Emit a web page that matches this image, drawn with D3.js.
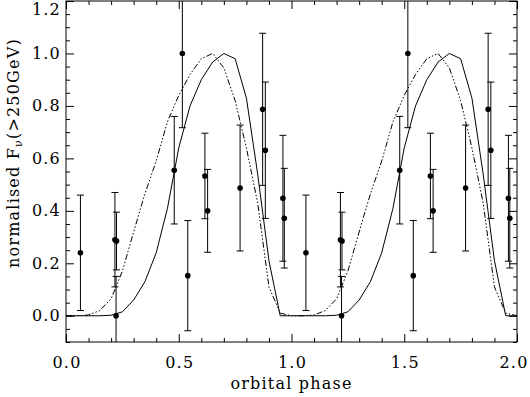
<!DOCTYPE html>
<html>
<head>
<meta charset="utf-8">
<script src="https://cdn.jsdelivr.net/npm/d3@7"></script>
<style>
  body { margin: 0; background: #fff; }
  svg { display: block; }
  text { font-family: "DejaVu Serif", serif; font-size: 16px; fill: #000; letter-spacing: 1.2px; }
</style>
</head>
<body>
<svg id="chart" width="530" height="397"></svg>
<script>
// data: one orbital cycle, drawn twice (phase and phase + 1)
var ptPhase = [0.064, 0.217, 0.224, 0.222, 0.480, 0.516, 0.540, 0.616, 0.628, 0.772, 0.872, 0.884, 0.962, 0.968];
var ptFlux  = [0.240, 0.290, 0.285, 0.000, 0.555, 1.000, 0.153, 0.533, 0.400, 0.487, 0.787, 0.631, 0.448, 0.372];
var ptErr   = [0.220, 0.180, 0.110, 0.150, 0.205, 0.283, 0.210, 0.163, 0.158, 0.240, 0.290, 0.260, 0.240, 0.190];

var modelPhase = [0, 0.05, 0.10, 0.15, 0.20, 0.25, 0.30, 0.35, 0.40, 0.45, 0.50,
                  0.55, 0.60, 0.65, 0.70, 0.75, 0.80, 0.85, 0.90, 0.95, 1.00];
var modelSolid = [0, 0, 0, 0, 0.002, 0.015, 0.06, 0.13, 0.24, 0.41, 0.64,
                  0.80, 0.90, 0.967, 1.0, 0.98, 0.83, 0.54, 0.21, 0.0, 0];
var modelDash  = [0, 0, 0.003, 0.02, 0.065, 0.17, 0.32, 0.465, 0.59, 0.74, 0.84,
                  0.92, 0.98, 1.0, 0.945, 0.82, 0.64, 0.43, 0.11, 0.01, 0];

var xMajor = [0, 0.5, 1.0, 1.5, 2.0];
var yMajor = [0, 0.2, 0.4, 0.6, 0.8, 1.0, 1.2];
var cycles = [0, 1];

(function() {

	var svg = d3.select('#chart');
	var pLeft = 66, pRight = 517, pTop = 1, pBottom = 342;

	var x = d3.scaleLinear().domain([0, 2]).range([pLeft, pRight]);
	var y = d3.scaleLinear().domain([-0.1, 1.2]).range([pBottom, pTop]);

	svg.append('clipPath').attr('id', 'plotclip')
	  .append('rect')
		.attr('x', pLeft).attr('y', pTop)
		.attr('width', pRight - pLeft).attr('height', pBottom - pTop);

	var plot = svg.append('g').attr('clip-path', 'url(#plotclip)');

	// model curves, repeated for each cycle
	function curvePoints(vals) {
		var out = [];
		cycles.forEach(function(c) {
			modelPhase.forEach(function(p, i) {
				if (c > 0 && i == 0) return;
				out.push([p + c, vals[i]]);
			});
		});
		return out;
	}

	var line = d3.line()
		.x(function(d) { return x(d[0]); })
		.y(function(d) { return y(d[1]); });

	plot.append('path')
		.attr('d', line(curvePoints(modelSolid)))
		.attr('fill', 'none').attr('stroke', '#000').attr('stroke-width', 1);

	plot.append('path')
		.attr('d', line(curvePoints(modelDash)))
		.attr('fill', 'none').attr('stroke', '#000').attr('stroke-width', 1)
		.attr('stroke-dasharray', '6,2,1.5,2,1.5,2,1.5,2');

	// data points with error bars
	var pts = [];
	cycles.forEach(function(c) {
		ptPhase.forEach(function(p, i) {
			pts.push({ x: p + c, y: ptFlux[i], e: ptErr[i] });
		});
	});

	var capW = 3.5;
	var g = plot.selectAll('.pt').data(pts).enter().append('g').attr('class', 'pt');
	g.append('line')
		.attr('x1', function(d) { return x(d.x); }).attr('x2', function(d) { return x(d.x); })
		.attr('y1', function(d) { return y(d.y - d.e); }).attr('y2', function(d) { return y(d.y + d.e); })
		.attr('stroke', '#000');
	g.append('line')
		.attr('x1', function(d) { return x(d.x) - capW; }).attr('x2', function(d) { return x(d.x) + capW; })
		.attr('y1', function(d) { return y(d.y - d.e); }).attr('y2', function(d) { return y(d.y - d.e); })
		.attr('stroke', '#000');
	g.append('line')
		.attr('x1', function(d) { return x(d.x) - capW; }).attr('x2', function(d) { return x(d.x) + capW; })
		.attr('y1', function(d) { return y(d.y + d.e); }).attr('y2', function(d) { return y(d.y + d.e); })
		.attr('stroke', '#000');
	g.append('circle')
		.attr('cx', function(d) { return x(d.x); }).attr('cy', function(d) { return y(d.y); })
		.attr('r', 2.8).attr('fill', '#000');

	// ticks on all four sides, pointing inward
	var xMinor = d3.range(0, 2.0001, 0.1).filter(function(v) { return Math.abs(v * 2 - Math.round(v * 2)) > 1e-6; });
	var yMinor = d3.range(-0.1, 1.2001, 0.05).filter(function(v) { return Math.abs(v * 5 - Math.round(v * 5)) > 1e-6; });

	function addAxis(axis, tr) {
		var a = svg.append('g').attr('transform', tr).call(axis);
		a.select('.domain').remove();
		a.selectAll('text').remove();
		a.selectAll('line').attr('stroke', '#000');
	}
	addAxis(d3.axisBottom(x).tickValues(xMajor).tickSize(-8), 'translate(0,' + pBottom + ')');
	addAxis(d3.axisBottom(x).tickValues(xMinor).tickSize(-4), 'translate(0,' + pBottom + ')');
	addAxis(d3.axisTop(x).tickValues(xMajor).tickSize(-8), 'translate(0,' + pTop + ')');
	addAxis(d3.axisTop(x).tickValues(xMinor).tickSize(-4), 'translate(0,' + pTop + ')');
	addAxis(d3.axisLeft(y).tickValues(yMajor).tickSize(-8), 'translate(' + pLeft + ',0)');
	addAxis(d3.axisLeft(y).tickValues(yMinor).tickSize(-4), 'translate(' + pLeft + ',0)');
	addAxis(d3.axisRight(y).tickValues(yMajor).tickSize(-8), 'translate(' + pRight + ',0)');
	addAxis(d3.axisRight(y).tickValues(yMinor).tickSize(-4), 'translate(' + pRight + ',0)');

	svg.append('rect')
		.attr('x', pLeft).attr('y', pTop)
		.attr('width', pRight - pLeft).attr('height', pBottom - pTop)
		.attr('fill', 'none').attr('stroke', '#000').attr('stroke-width', 1);

	// tick labels
	svg.selectAll('.xlab').data(xMajor).enter().append('text')
		.attr('class', 'xlab')
		.attr('x', function(d) { return Math.min(x(d) + 1, 514); })
		.attr('y', 368)
		.attr('text-anchor', 'middle')
		.text(d3.format('.1f'));

	// the top label sits lower so it stays inside the page
	svg.selectAll('.ylab').data(yMajor).enter().append('text')
		.attr('class', 'ylab')
		.attr('x', 61)
		.attr('y', function(d) { return Math.max(y(d) + 5.5, 15); })
		.attr('text-anchor', 'end')
		.text(d3.format('.1f'));

	// axis titles
	svg.append('text')
		.attr('x', (pLeft + pRight) / 2)
		.attr('y', 389)
		.attr('text-anchor', 'middle')
		.text('orbital phase');

	var yt = svg.append('text')
		.attr('transform', 'translate(19,153) rotate(-90)')
		.attr('text-anchor', 'middle');
	yt.append('tspan').text('normalised F');
	yt.append('tspan').attr('baseline-shift', '-25%').style('font-size', '11px').text('\u03bd');
	yt.append('tspan').text('(>250GeV)');

})()
</script>
</body>
</html>
